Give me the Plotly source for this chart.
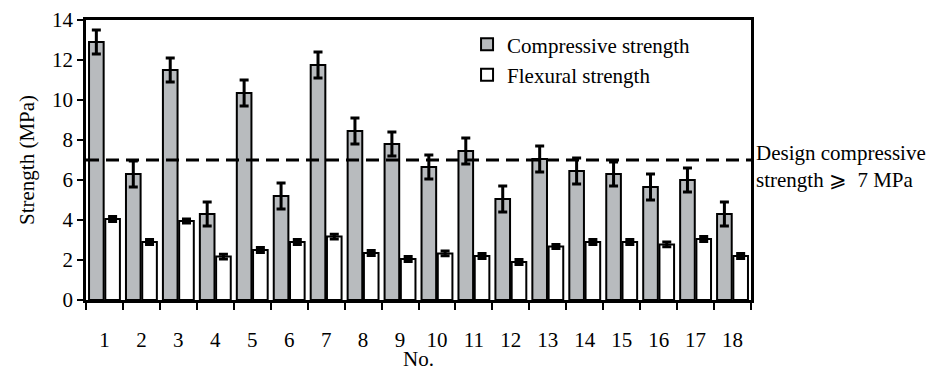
import plotly.graph_objects as go

categories = [str(i) for i in range(1, 19)]
compressive = [12.9, 6.3, 11.5, 4.3, 10.35, 5.2, 11.75, 8.45, 7.8, 6.65, 7.45, 5.05, 7.05, 6.45, 6.3, 5.65, 6.0, 4.3]
compressive_err = [0.6, 0.65, 0.6, 0.6, 0.65, 0.65, 0.65, 0.65, 0.6, 0.6, 0.65, 0.65, 0.65, 0.65, 0.6, 0.65, 0.6, 0.6]
flexural = [4.05, 2.9, 3.95, 2.17, 2.5, 2.9, 3.17, 2.35, 2.05, 2.33, 2.2, 1.9, 2.67, 2.9, 2.9, 2.78, 3.05, 2.2]
flexural_err = [0.12, 0.12, 0.1, 0.12, 0.12, 0.12, 0.12, 0.12, 0.12, 0.12, 0.12, 0.12, 0.1, 0.12, 0.12, 0.12, 0.12, 0.12]
design_strength = 7
y_ticks = [0, 2, 4, 6, 8, 10, 12, 14]

FONT = "Liberation Serif"
FS = 21

fig = go.Figure()
fig.add_trace(go.Bar(
    x=categories, y=compressive, name="Compressive strength",
    marker=dict(color="#b8bbbe", line=dict(color="black", width=2)),
    error_y=dict(type="data", array=compressive_err, visible=True,
                 color="black", thickness=3, width=4.5),
))
fig.add_trace(go.Bar(
    x=categories, y=flexural, name="Flexural strength",
    marker=dict(color="white", line=dict(color="black", width=2)),
    error_y=dict(type="data", array=flexural_err, visible=True,
                 color="black", thickness=3, width=4.5),
))

fig.add_shape(type="line", xref="paper", yref="y", x0=0, x1=1,
              y0=design_strength, y1=design_strength,
              line=dict(color="black", width=3, dash="13px,7px"))

fig.add_annotation(xref="paper", yref="y", x=1, y=6.7, xanchor="left",
                   yanchor="middle", xshift=3, align="left", showarrow=False,
                   text="Design compressive<br>strength ⩾  7 MPa",
                   font=dict(family=FONT, size=FS, color="black"))

fig.update_layout(
    width=932, height=371,
    margin=dict(l=86, r=181, t=20, b=71),
    plot_bgcolor="white", paper_bgcolor="white",
    font=dict(family=FONT, size=FS, color="black"),
    barmode="group", bargap=0.12, bargroupgap=0.1,
    showlegend=True,
    legend=dict(x=0.573, y=0.985, xanchor="left", yanchor="top",
                bgcolor="rgba(0,0,0,0)", font=dict(family=FONT, size=FS, color="black"),
                tracegroupgap=0, itemwidth=30),
)
fig.update_xaxes(
    type="category", range=[-0.5, 17.5], automargin=False,
    showline=True, linecolor="black", linewidth=2.5, mirror=True,
    ticks="outside", tickson="boundaries", ticklen=7, tickwidth=2, tickcolor="black",
    ticklabelstandoff=19,
    tickfont=dict(family=FONT, size=FS, color="black"),
    title=dict(text="No.", standoff=0, font=dict(family=FONT, size=FS, color="black")),
    showgrid=False, zeroline=False,
)
fig.update_yaxes(
    range=[0, 14], tickvals=y_ticks, automargin=False,
    showline=True, linecolor="black", linewidth=2.5, mirror=True,
    ticks="outside", ticklen=6, tickwidth=2, tickcolor="black",
    tickfont=dict(family=FONT, size=FS, color="black"),
    title=dict(text="Strength (MPa)", standoff=12, font=dict(family=FONT, size=FS, color="black")),
    showgrid=False, zeroline=False,
)

fig.write_html("out.html")
